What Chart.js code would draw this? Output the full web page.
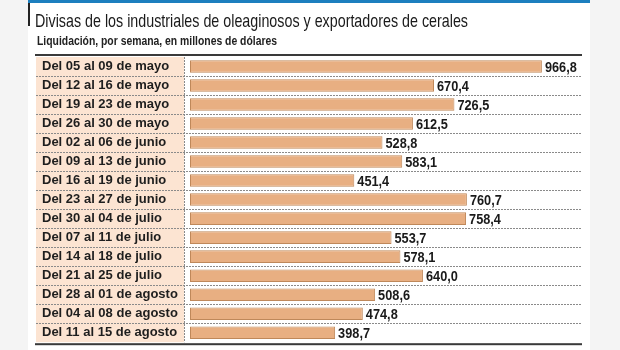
<!DOCTYPE html>
<html>
<head>
<meta charset="utf-8">
<script src="https://cdn.jsdelivr.net/npm/chart.js@4"></script>
<style>
  html, body { margin: 0; padding: 0; background: #f4f4f4; }
  #wrap { position: relative; width: 620px; height: 350px; overflow: hidden; background: #f4f4f4; }
  #panel { position: absolute; left: 28px; top: 0; width: 562px; height: 350px; background: #ffffff; }
  #blue { position: absolute; left: 28px; top: 0; width: 562px; height: 3px; background: #1d7fbf; }
  #vline { position: absolute; left: 28px; top: 3px; width: 2px; height: 23px; background: #222; }
  .txt { position: absolute; font-family: "Liberation Sans", Arial, sans-serif; white-space: nowrap; line-height: 1; transform-origin: 0 0; }
  #title { left: 35px; top: 11px; font-size: 19px; color: #1a1a1a; }
  #subtitle { left: 37px; top: 35px; font-size: 12px; font-weight: bold; color: #222; }
  canvas { position: absolute; left: 0; top: 0; }
</style>
</head>
<body>
<div id="wrap">
  <div id="panel"></div>
  <div id="blue"></div>
  <div id="vline"></div>
  <canvas id="c" width="620" height="350"></canvas>
  <div id="title" class="txt" data-w="433">Divisas de los industriales de oleaginosos y exportadores de cerales</div>
  <div id="subtitle" class="txt" data-w="240">Liquidación, por semana, en millones de dólares</div>
</div>
<script>
const categories = [
  "Del 05 al 09 de mayo",
  "Del 12 al 16 de mayo",
  "Del 19 al 23 de mayo",
  "Del 26 al 30 de mayo",
  "Del 02 al 06 de junio",
  "Del 09 al 13 de junio",
  "Del 16 al 19 de junio",
  "Del 23 al 27 de junio",
  "Del 30 al 04 de julio",
  "Del 07 al 11 de julio",
  "Del 14 al 18 de julio",
  "Del 21 al 25 de julio",
  "Del 28 al 01 de agosto",
  "Del 04 al 08 de agosto",
  "Del 11 al 15 de agosto"
];
const liquidacion = [966.8, 670.4, 726.5, 612.5, 528.8, 583.1, 451.4, 760.7, 758.4, 553.7, 578.1, 640.0, 508.6, 474.8, 398.7];

// condense the heading texts to the reference widths
document.querySelectorAll('.txt').forEach(el => {
  const w = el.getBoundingClientRect().width;
  const target = parseFloat(el.dataset.w);
  if (w > 0) el.style.transform = 'scaleX(' + (target / w) + ')';
});

const FONT = '"Liberation Sans", Arial, sans-serif';
const LABEL_LEFT = 36;

const decor = {
  id: 'decor',
  beforeDraw(chart) {
    const ctx = chart.ctx, ca = chart.chartArea;
    ctx.save();
    ctx.fillStyle = '#fce4d2';
    ctx.fillRect(LABEL_LEFT, ca.top, (ca.left - 6) - LABEL_LEFT, ca.bottom - ca.top);
    ctx.restore();
  },
  afterDatasetsDraw(chart) {
    const ctx = chart.ctx, ca = chart.chartArea, ys = chart.scales.y;
    ctx.save();
    ctx.strokeStyle = '#8a8a8a';
    ctx.lineWidth = 1;
    ctx.setLineDash([2, 1]);
    for (let i = 1; i < categories.length; i++) {
      const yy = Math.round((ys.getPixelForValue(i - 1) + ys.getPixelForValue(i)) / 2) + 0.5;
      ctx.beginPath();
      ctx.moveTo(LABEL_LEFT, yy);
      ctx.lineTo(ca.right, yy);
      ctx.stroke();
    }
    const vx = ca.left - 5.5;
    ctx.beginPath();
    ctx.moveTo(vx, ca.top);
    ctx.lineTo(vx, ca.bottom);
    ctx.stroke();
    ctx.setLineDash([]);
    ctx.fillStyle = '#3a3a3a';
    ctx.fillRect(LABEL_LEFT - 1, ca.top - 3, ca.right - LABEL_LEFT + 1, 2);
    ctx.fillRect(LABEL_LEFT - 1, ca.bottom + 1, ca.right - LABEL_LEFT + 1, 2);
    ctx.fillStyle = '#1a1a1a';
    ctx.font = 'bold 15px ' + FONT;
    ctx.textAlign = 'left';
    ctx.textBaseline = 'middle';
    const meta = chart.getDatasetMeta(0);
    meta.data.forEach((bar, i) => {
      ctx.save();
      ctx.translate(bar.x + 3, bar.y + 1);
      ctx.scale(0.85, 1);
      ctx.fillText(liquidacion[i].toFixed(1).replace('.', ','), 0, 0);
      ctx.restore();
    });
    ctx.restore();
  }
};

new Chart(document.getElementById('c'), {
  type: 'bar',
  data: {
    labels: categories,
    datasets: [{
      data: liquidacion,
      backgroundColor: '#e8af82',
      borderColor: '#bf885a',
      borderWidth: 1,
      borderSkipped: false,
      barPercentage: 0.66,
      categoryPercentage: 1
    }]
  },
  options: {
    indexAxis: 'y',
    responsive: false,
    animation: false,
    devicePixelRatio: 1,
    layout: { padding: { left: 42, top: 57, right: 38, bottom: 5 } },
    plugins: { legend: { display: false }, tooltip: { enabled: false } },
    scales: {
      x: { display: false, min: 0, max: 1077 },
      y: {
        afterFit(scale) { scale.width = 148; },
        grid: { display: false },
        border: { display: false },
        ticks: {
          autoSkip: false,
          crossAlign: 'far',
          color: '#1e1e1e',
          font: { family: FONT, size: 13, weight: 'bold' },
          padding: 0
        }
      }
    }
  },
  plugins: [decor]
});
</script>
</body>
</html>
